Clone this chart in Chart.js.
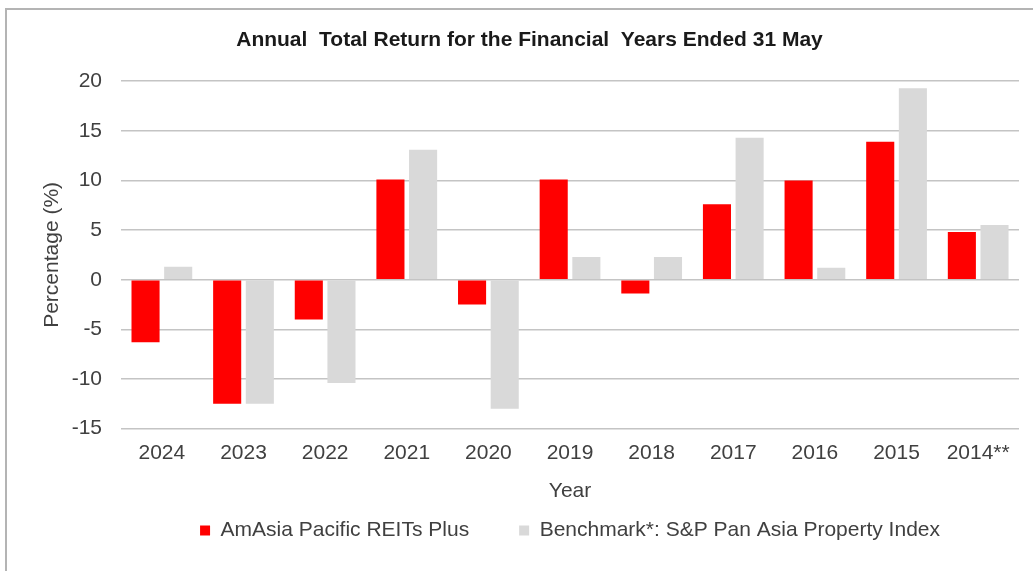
<!DOCTYPE html>
<html>
<head>
<meta charset="utf-8">
<script src="https://cdn.jsdelivr.net/npm/chart.js@4.4.1/dist/chart.umd.min.js"></script>
<style>
  html, body { margin: 0; padding: 0; background: #fff; }
  #wrap { position: relative; width: 1033px; height: 571px; }
  #frame { position: absolute; left: 5px; top: 8px; right: 0; bottom: 0;
           border-top: 2px solid #b4b4b4; border-left: 2px solid #b4b4b4; pointer-events: none; }
  canvas { position: absolute; left: 0; top: 0; }
</style>
</head>
<body>
<div id="wrap">
  <canvas id="c" width="1033" height="571"></canvas>
  <div id="frame"></div>
</div>
<script>
const categories = ["2024", "2023", "2022", "2021", "2020", "2019", "2018", "2017", "2016", "2015", "2014**"];
const fundReturns = [-6.3, -12.5, -4.0, 10.1, -2.5, 10.1, -1.4, 7.6, 10.0, 13.9, 4.8];
const benchmarkReturns = [1.3, -12.5, -10.4, 13.1, -13.0, 2.3, 2.3, 14.3, 1.2, 19.3, 5.5];
const fundLabel = "AmAsia Pacific REITs Plus";
const benchmarkLabel = "Benchmark*: S&P Pan Asia Property Index";
const chartTitle = "Annual  Total Return for the Financial  Years Ended 31 May";
const yTitle = "Percentage (%)";
const xTitle = "Year";

const FONT = "'Liberation Sans', Arial, sans-serif";
const TXT = "#404040";

new Chart(document.getElementById("c"), {
  type: "bar",
  data: {
    labels: categories,
    datasets: [
      { label: fundLabel, data: fundReturns, backgroundColor: "#ff0000", borderWidth: 0 },
      { label: benchmarkLabel, data: benchmarkReturns, backgroundColor: "#d9d9d9", borderWidth: 0 }
    ]
  },
  options: {
    responsive: false,
    animation: false,
    devicePixelRatio: 1,
    datasets: { bar: { barPercentage: 0.86, categoryPercentage: 0.8 } },
    layout: { padding: { left: 40, right: 14, top: 28, bottom: 20 } },
    plugins: {
      title: {
        display: true, text: chartTitle, color: "#1a1a1a",
        font: { family: FONT, size: 21, weight: "bold" },
        padding: { top: 0, bottom: 28 }
      },
      legend: {
        position: "bottom", fullSize: false,
        labels: {
          color: TXT, font: { family: FONT, size: 21 },
          boxWidth: 10, boxHeight: 10, padding: 50
        }
      },
      tooltip: { enabled: false }
    },
    scales: {
      x: {
        grid: { display: false, drawTicks: false },
        border: { display: false },
        ticks: { color: TXT, font: { family: FONT, size: 21 }, padding: 12, maxRotation: 0, autoSkip: false },
        title: { display: true, text: xTitle, color: TXT, font: { family: FONT, size: 21 }, padding: { top: 1, bottom: -34 } }
      },
      y: {
        min: -15, max: 20,
        grid: { color: "#c4c4c4", lineWidth: 1.5, drawTicks: true, tickLength: 19, tickColor: "rgba(0,0,0,0)" },
        border: { display: false },
        ticks: { stepSize: 5, color: TXT, font: { family: FONT, size: 21 }, padding: 0 },
        title: { display: true, text: yTitle, color: TXT, font: { family: FONT, size: 21 }, padding: { top: 0, bottom: 6.5 } }
      }
    }
  }
});
</script>
</body>
</html>
